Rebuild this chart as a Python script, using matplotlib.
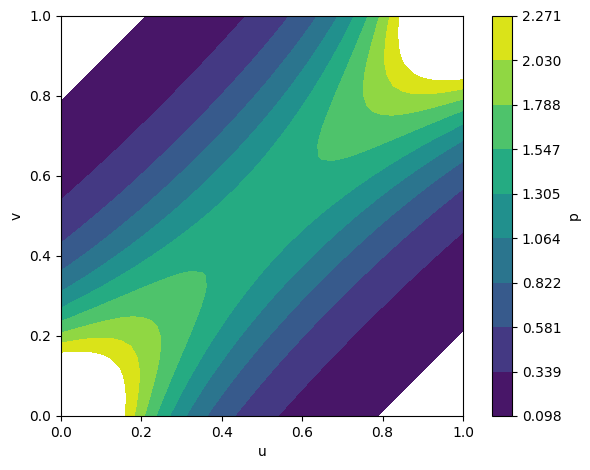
import numpy as np
import matplotlib
matplotlib.use("Agg")
import matplotlib.pyplot as plt

# Grade de u e v (passo 0.025)
u = [0.000, 0.025, 0.050, 0.075, 0.100, 0.125, 0.150, 0.175, 0.200, 0.225,
     0.250, 0.275, 0.300, 0.325, 0.350, 0.375, 0.400, 0.425, 0.450, 0.475,
     0.500, 0.525, 0.550, 0.575, 0.600, 0.625, 0.650, 0.675, 0.700, 0.725,
     0.750, 0.775, 0.800, 0.825, 0.850, 0.875, 0.900, 0.925, 0.950, 0.975, 1.000]
v = list(u)

# Valores de p: coluna i (u[i]), de v[i] ate v[40-i]
# o resto do mapa e espelhado: p(u,v) = p(v,u) = p(1-u,1-v)
p_col = [
    [5.034, 4.442, 3.920, 3.460, 3.053, 2.694, 2.378, 2.098, 1.852, 1.634, 1.442, 1.273, 1.123, 0.991,
     0.875, 0.772, 0.681, 0.601, 0.531, 0.468, 0.413, 0.365, 0.322, 0.284, 0.251, 0.221, 0.195, 0.172,
     0.152, 0.134, 0.118, 0.104, 0.092, 0.081, 0.072, 0.063, 0.056, 0.049, 0.044, 0.038, 0.034],
    [4.032, 3.648, 3.292, 2.964, 2.663, 2.387, 2.136, 1.909, 1.704, 1.518, 1.352, 1.202, 1.068, 0.948,
     0.841, 0.746, 0.661, 0.586, 0.519, 0.459, 0.406, 0.359, 0.318, 0.281, 0.248, 0.219, 0.194, 0.171,
     0.151, 0.134, 0.118, 0.104, 0.092, 0.081, 0.072, 0.063, 0.056, 0.049, 0.044],
    [3.378, 3.113, 2.857, 2.611, 2.378, 2.158, 1.954, 1.763, 1.588, 1.426, 1.279, 1.145, 1.023, 0.913,
     0.814, 0.725, 0.644, 0.573, 0.508, 0.451, 0.400, 0.355, 0.314, 0.278, 0.246, 0.218, 0.193, 0.170,
     0.151, 0.133, 0.118, 0.104, 0.092, 0.081, 0.072, 0.063, 0.056],
    [2.926, 2.734, 2.541, 2.350, 2.164, 1.984, 1.812, 1.649, 1.496, 1.353, 1.220, 1.098, 0.986, 0.884,
     0.791, 0.707, 0.630, 0.562, 0.500, 0.445, 0.395, 0.351, 0.311, 0.276, 0.244, 0.216, 0.192, 0.170,
     0.150, 0.133, 0.117, 0.104, 0.092, 0.081, 0.072],
    [2.599, 2.455, 2.305, 2.152, 1.999, 1.848, 1.700, 1.558, 1.422, 1.293, 1.172, 1.060, 0.956, 0.860,
     0.772, 0.692, 0.619, 0.553, 0.493, 0.439, 0.391, 0.348, 0.309, 0.274, 0.243, 0.216, 0.191, 0.169,
     0.150, 0.133, 0.117, 0.104, 0.092],
    [2.355, 2.244, 2.124, 1.999, 1.870, 1.740, 1.610, 1.484, 1.362, 1.244, 1.133, 1.029, 0.931, 0.840,
     0.756, 0.680, 0.609, 0.545, 0.487, 0.435, 0.388, 0.345, 0.307, 0.273, 0.242, 0.215, 0.190, 0.169,
     0.150, 0.132, 0.117],
    [2.168, 2.081, 1.983, 1.877, 1.767, 1.653, 1.538, 1.424, 1.312, 1.204, 1.101, 1.003, 0.910, 0.824,
     0.743, 0.669, 0.601, 0.539, 0.483, 0.431, 0.385, 0.343, 0.305, 0.272, 0.241, 0.214, 0.190, 0.169,
     0.149],
    [2.023, 1.952, 1.870, 1.780, 1.684, 1.583, 1.479, 1.375, 1.272, 1.172, 1.074, 0.981, 0.893, 0.810,
     0.733, 0.661, 0.595, 0.534, 0.479, 0.429, 0.383, 0.342, 0.304, 0.271, 0.241, 0.214, 0.190],
    [1.907, 1.849, 1.780, 1.702, 1.616, 1.526, 1.431, 1.335, 1.239, 1.145, 1.052, 0.964, 0.879, 0.799,
     0.724, 0.655, 0.590, 0.531, 0.476, 0.427, 0.382, 0.341, 0.304, 0.271, 0.241],
    [1.814, 1.766, 1.707, 1.638, 1.562, 1.479, 1.392, 1.302, 1.212, 1.122, 1.035, 0.949, 0.868, 0.791,
     0.718, 0.650, 0.586, 0.528, 0.474, 0.425, 0.381, 0.340, 0.304],
    [1.739, 1.699, 1.648, 1.586, 1.517, 1.441, 1.360, 1.276, 1.190, 1.105, 1.020, 0.938, 0.859, 0.784,
     0.713, 0.646, 0.584, 0.526, 0.473, 0.425, 0.381],
    [1.678, 1.644, 1.599, 1.544, 1.480, 1.410, 1.334, 1.254, 1.173, 1.091, 1.009, 0.930, 0.853, 0.779,
     0.709, 0.643, 0.582, 0.525, 0.473],
    [1.628, 1.599, 1.560, 1.509, 1.451, 1.385, 1.313, 1.237, 1.159, 1.080, 1.001, 0.923, 0.848, 0.776,
     0.707, 0.642, 0.582],
    [1.587, 1.563, 1.528, 1.482, 1.427, 1.365, 1.297, 1.224, 1.149, 1.072, 0.995, 0.919, 0.845, 0.774,
     0.706],
    [1.554, 1.534, 1.502, 1.460, 1.409, 1.350, 1.284, 1.214, 1.141, 1.067, 0.992, 0.917, 0.844],
    [1.528, 1.511, 1.482, 1.443, 1.395, 1.339, 1.276, 1.208, 1.137, 1.064, 0.990],
    [1.508, 1.493, 1.467, 1.431, 1.385, 1.331, 1.271, 1.205, 1.136],
    [1.492, 1.480, 1.457, 1.423, 1.380, 1.328, 1.269],
    [1.482, 1.472, 1.451, 1.419, 1.378],
    [1.476, 1.468, 1.449],
    [1.474],
]

# Niveis do contorno (rotulos da barra de cores)
niveis = [0.098, 0.339, 0.581, 0.822, 1.064, 1.305, 1.547, 1.788, 2.030, 2.271]

# Montando a matriz completa (linhas = v, colunas = u)
n = len(u)
p = np.empty((n, n))
for i in range(n):
    for j in range(n):
        a, b = min(i, j), max(i, j)
        if a + b > n - 1:
            a, b = n - 1 - b, n - 1 - a
        p[j, i] = p_col[a][b - a]

fig = plt.figure(figsize=(5.9, 4.7), dpi=100)
ax = fig.add_axes([0.1034, 0.1149, 0.6813, 0.8511])
cax = fig.add_axes([0.8339, 0.1149, 0.0339, 0.8511])

cs = ax.contourf(u, v, p, levels=niveis, cmap='viridis')
ax.set_xlim(0, 1)
ax.set_ylim(0, 1)
ax.set_xlabel('u')
ax.set_ylabel('v')

cb = fig.colorbar(cs, cax=cax, ticks=niveis, format='%.3f')
cb.set_label('p')

fig.savefig('out.png')
